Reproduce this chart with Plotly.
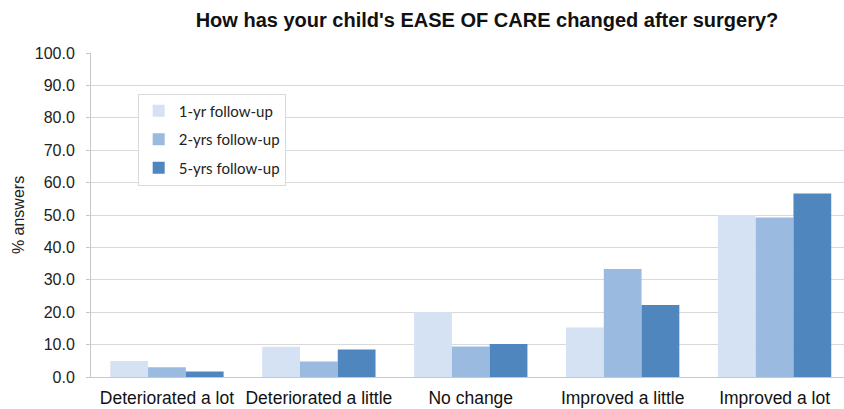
import plotly.graph_objects as go

categories = ["Deteriorated a lot", "Deteriorated a little", "No change",
              "Improved a little", "Improved a lot"]
series_names = ["1-yr follow-up", "2-yrs follow-up", "5-yrs follow-up"]
one_year = [4.9, 9.3, 20.0, 15.3, 50.0]
two_years = [3.0, 4.8, 9.4, 33.3, 49.2]
five_years = [1.7, 8.5, 10.2, 22.2, 56.6]
y_ticks = [0, 10, 20, 30, 40, 50, 60, 70, 80, 90, 100]

colors = ["#d5e2f3", "#9abae0", "#4f86bd"]
axis_font = "Liberation Sans, Arial"

fig = go.Figure()
for i, (name, vals) in enumerate(zip(series_names, [one_year, two_years, five_years])):
    fig.add_trace(go.Bar(
        x=categories, y=vals, name=name,
        marker=dict(color=colors[i], line=dict(width=0)),
        legendgroup=f"g{i}",
    ))

fig.update_layout(
    width=844, height=409,
    margin=dict(l=91, r=0, t=53, b=32),
    paper_bgcolor="white", plot_bgcolor="white",
    barmode="group", bargap=0.254, bargroupgap=0,
    title=dict(
        text="<b>How has your child's EASE OF CARE changed after surgery?</b>",
        x=0.577, xanchor="center", y=0.952, yanchor="middle",
        font=dict(family=axis_font, size=20, color="#111111"),
    ),
    legend=dict(
        x=0.062, y=0.875, xanchor="left", yanchor="top",
        bgcolor="white", bordercolor="#d9d9d9", borderwidth=1,
        font=dict(family="Lato, sans-serif", size=15, color="#222222"),
        tracegroupgap=6, itemwidth=30,
    ),
    showlegend=True,
)
fig.update_xaxes(
    range=[-0.5, 4.457],
    showgrid=False, showline=True, linecolor="#c8c8c8", linewidth=1,
    tickfont=dict(family=axis_font, size=17.5, color="#111111"),
    ticks="", ticklen=0, ticklabelstandoff=5,
)
fig.update_yaxes(
    range=[0, 100], tickvals=y_ticks, tickformat=".1f",
    showgrid=True, gridcolor="#d9d9d9", gridwidth=1,
    showline=True, linecolor="#c8c8c8", linewidth=1,
    ticks="outside", ticklen=4, tickcolor="#c8c8c8",
    ticklabelstandoff=8,
    tickfont=dict(family=axis_font, size=16, color="#222222"),
    title=dict(text="% answers", standoff=6,
               font=dict(family=axis_font, size=16, color="#222222")),
    zeroline=False,
)

fig.write_html("out.html")
